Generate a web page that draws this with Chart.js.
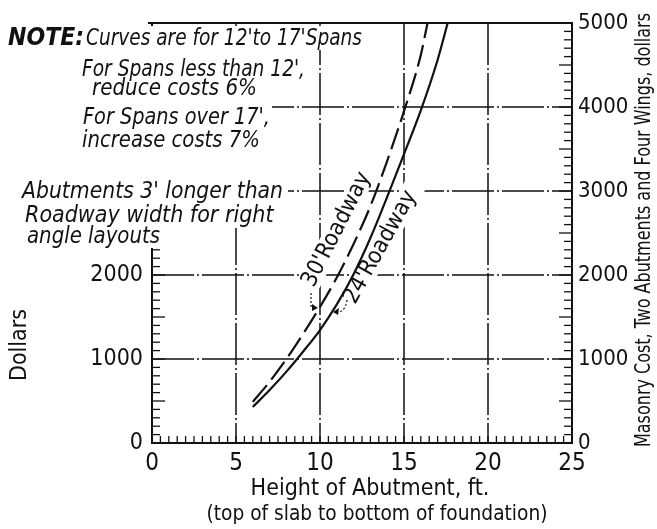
<!DOCTYPE html>
<html>
<head>
<meta charset="utf-8">
<script src="https://cdn.jsdelivr.net/npm/chart.js@4.4.0/dist/chart.umd.min.js"></script>
<style>
  html, body { margin: 0; padding: 0; background: #fff; }
</style>
</head>
<body>
<canvas id="grafico" width="657" height="529"></canvas>
<script>
// Alturas (ft) y costos (dólares)
const alturas24 = [6, 7, 8, 9, 10, 11, 12, 13, 14, 15, 16, 17, 17.6];
const costos24 = [430, 630, 850, 1090, 1345, 1650, 2010, 2440, 2930, 3440, 3960, 4560, 5000];
const alturas30 = [6, 7, 8, 9, 10, 11, 12, 13, 14, 15, 16, 16.4];
const costos30 = [490, 730, 1000, 1300, 1620, 1970, 2370, 2820, 3360, 3950, 4620, 5000];

const ticksX = [0, 5, 10, 15, 20, 25];
const ticksIzq = [0, 1000, 2000];
const ticksDer = [0, 1000, 2000, 3000, 4000, 5000];
const lineasX = [5, 10, 15, 20];
const lineasY = [1000, 2000, 3000, 4000];

const FUENTE = '"Liberation Sans Narrow", "DejaVu Sans Condensed", "Liberation Sans", sans-serif';
const TINTA = '#111';

// Notas de la esquina superior izquierda: [texto, x, y, ancho]
const notas = [
  ["For Spans less than 12',", 82, 70, 223],
  ["reduce costs 6%", 92, 89, 165],
  ["For Spans over 17',", 83, 118, 187],
  ["increase costs 7%", 82, 141, 178],
  ["Abutments 3' longer than", 22, 192, 261],
  ["Roadway width for right", 25, 216, 253],
  ["angle layouts", 27, 237, 133]
];

// Zonas en blanco detrás de las notas (tapan la cuadrícula)
const cajas = [
  [4, 26, 362, 24],
  [0, 50, 310, 50],
  [0, 100, 272, 80],
  [0, 180, 288, 48],
  [0, 228, 166, 20]
];

function linea(ctx, x1, y1, x2, y2) {
  ctx.beginPath();
  ctx.moveTo(x1, y1);
  ctx.lineTo(x2, y2);
  ctx.stroke();
}

function etiquetaCurva(ctx, texto, px, py, ang, ancho) {
  ctx.save();
  ctx.translate(px, py);
  ctx.rotate(ang);
  ctx.fillStyle = '#fff';
  ctx.fillRect(-ancho / 2 - 3, -11, ancho + 6, 22);
  ctx.fillStyle = TINTA;
  ctx.font = '23px ' + FUENTE;
  ctx.textAlign = 'center';
  ctx.textBaseline = 'middle';
  ctx.fillText(texto, 0, 0, ancho);
  ctx.restore();
}

const fondo = {
  id: 'fondo',
  beforeDatasetsDraw(chart) {
    const { ctx, chartArea: a } = chart;
    const x = chart.scales.x, y = chart.scales.y;
    ctx.save();
    ctx.strokeStyle = TINTA;

    // cuadrícula a trazos
    ctx.lineWidth = 1.5;
    ctx.setLineDash([42, 3, 2, 3]);
    lineasX.forEach(v => {
      const px = x.getPixelForValue(v);
      linea(ctx, px, a.top, px, a.bottom);
    });
    lineasY.forEach(v => {
      const py = y.getPixelForValue(v);
      linea(ctx, a.left, py, a.right, py);
    });
    ctx.setLineDash([]);

    // borde superior
    ctx.lineWidth = 2;
    linea(ctx, a.left - 4, a.top, a.right, a.top);

    // marcas menores
    ctx.lineWidth = 1.3;
    for (let k = 1; k < 50; k++) {
      const px = x.getPixelForValue(k / 2);
      linea(ctx, px, a.bottom, px, a.bottom - 7);
      const py = y.getPixelForValue(k * 100);
      const largo = k % 5 === 0 ? 13 : 8;
      linea(ctx, a.left, py, a.left + largo, py);
      linea(ctx, a.right, py, a.right - largo, py);
    }

    // fondo blanco para las notas
    ctx.fillStyle = '#fff';
    cajas.forEach(c => ctx.fillRect(c[0], c[1], c[2], c[3]));

    // notas
    ctx.fillStyle = TINTA;
    ctx.textAlign = 'left';
    ctx.textBaseline = 'middle';
    ctx.font = 'italic bold 25px ' + FUENTE;
    ctx.fillText('NOTE:', 8, 38, 76);
    ctx.font = 'italic 23px ' + FUENTE;
    ctx.fillText("Curves are for 12'to 17'Spans", 86, 39, 276);
    notas.forEach(n => ctx.fillText(n[0], n[1], n[2], n[3]));

    // rótulos de las curvas
    etiquetaCurva(ctx, "30'Roadway", x.getPixelForValue(11.0), y.getPixelForValue(2540), -1.1, 150);
    etiquetaCurva(ctx, "24'Roadway", x.getPixelForValue(13.6), y.getPixelForValue(2330), -1.06, 142);

    // flechas punteadas
    ctx.lineWidth = 1.2;
    ctx.setLineDash([2, 2]);
    ctx.beginPath();
    ctx.moveTo(347, 300);
    ctx.quadraticCurveTo(345, 314, 334, 312);
    ctx.stroke();
    ctx.beginPath();
    ctx.moveTo(311, 293);
    ctx.lineTo(311, 308);
    ctx.stroke();
    ctx.setLineDash([]);
    ctx.beginPath();
    ctx.moveTo(333, 312); ctx.lineTo(339, 308); ctx.lineTo(338, 315); ctx.closePath();
    ctx.fill();
    ctx.beginPath();
    ctx.moveTo(318, 308); ctx.lineTo(312, 304); ctx.lineTo(312, 311); ctx.closePath();
    ctx.fill();
    ctx.restore();
  },
  afterDraw(chart) {
    const { ctx } = chart;
    ctx.save();
    ctx.fillStyle = TINTA;
    ctx.textAlign = 'center';
    ctx.textBaseline = 'middle';
    ctx.font = '23px ' + FUENTE;
    ctx.fillText('Height of Abutment, ft.', 370, 489, 240);
    ctx.font = '22px ' + FUENTE;
    ctx.fillText('(top of slab to bottom of foundation)', 377, 514, 341);

    ctx.translate(20, 345);
    ctx.rotate(-Math.PI / 2);
    ctx.font = '23px ' + FUENTE;
    ctx.fillText('Dollars', 0, 0, 85);
    ctx.restore();

    ctx.save();
    ctx.fillStyle = TINTA;
    ctx.textAlign = 'center';
    ctx.textBaseline = 'middle';
    ctx.translate(645, 230);
    ctx.rotate(-Math.PI / 2);
    ctx.font = '21px ' + FUENTE;
    ctx.fillText('Masonry Cost, Two Abutments and Four Wings, dollars', 0, 0, 434);
    ctx.restore();
  }
};

const sinComas = v => String(v);

const ctx = document.getElementById('grafico').getContext('2d');
new Chart(ctx, {
  type: 'line',
  data: {
    datasets: [
      {
        label: "24' Roadway",
        data: alturas24.map((h, i) => ({ x: h, y: costos24[i] })),
        borderColor: TINTA,
        borderWidth: 2.2,
        pointRadius: 0,
        cubicInterpolationMode: 'monotone',
        yAxisID: 'y'
      },
      {
        label: "30' Roadway",
        data: alturas30.map((h, i) => ({ x: h, y: costos30[i] })),
        borderColor: TINTA,
        borderWidth: 2.2,
        borderDash: [22, 7],
        pointRadius: 0,
        cubicInterpolationMode: 'monotone',
        yAxisID: 'y'
      }
    ]
  },
  options: {
    responsive: false,
    animation: false,
    devicePixelRatio: 1,
    layout: { padding: { top: 23, left: 0, right: 0, bottom: 0 } },
    plugins: {
      legend: { display: false },
      tooltip: { enabled: false }
    },
    scales: {
      x: {
        type: 'linear',
        min: 0,
        max: 25,
        afterBuildTicks: s => { s.ticks = ticksX.map(v => ({ value: v })); },
        afterFit: s => { s.height = 86; },
        grid: { display: false, drawTicks: false },
        border: { display: true, color: TINTA, width: 2 },
        ticks: { color: TINTA, font: { family: FUENTE, size: 24 }, padding: 6, autoSkip: false, maxRotation: 0, callback: sinComas }
      },
      y: {
        position: 'left',
        min: 0,
        max: 5000,
        afterBuildTicks: s => { s.ticks = ticksIzq.map(v => ({ value: v })); },
        afterFit: s => { s.width = 152; },
        grid: { display: false, drawTicks: false },
        border: { display: true, color: TINTA, width: 2 },
        ticks: { color: TINTA, font: { family: FUENTE, size: 23 }, padding: 9, callback: sinComas }
      },
      y2: {
        position: 'right',
        min: 0,
        max: 5000,
        afterBuildTicks: s => { s.ticks = ticksDer.map(v => ({ value: v })); },
        afterFit: s => { s.width = 85; },
        grid: { display: false, drawTicks: false },
        border: { display: true, color: TINTA, width: 2 },
        ticks: { color: TINTA, font: { family: FUENTE, size: 22 }, padding: 6, callback: sinComas }
      }
    }
  },
  plugins: [fondo]
});
</script>
</body>
</html>
